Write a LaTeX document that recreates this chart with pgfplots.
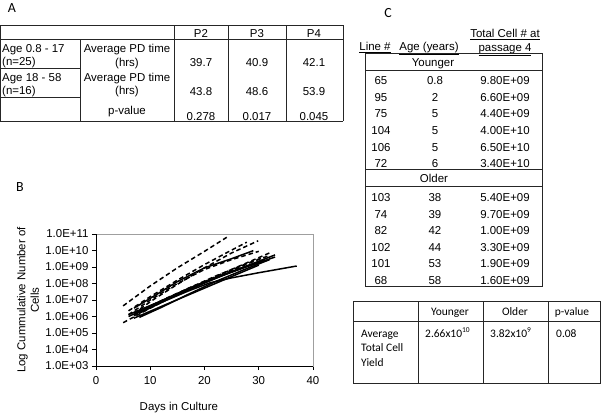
\documentclass[border=0pt]{standalone}
\usepackage{fontspec}
\setmainfont{Liberation Sans}
\newfontfamily\calibri{Carlito}
\usepackage{pgfplots}
\pgfplotsset{compat=1.18}
\newcommand{\tf}{\fontsize{11.5}{13}\selectfont}
\newcommand{\cf}{\calibri\fontsize{11.5}{13}\selectfont}
\begin{document}
\begin{tikzpicture}
\useasboundingbox (0bp,0bp) rectangle (601bp,-414bp);
\begin{scope}[x=1bp,y=-1bp, every node/.style={inner sep=0pt, font=\tf}, tl/.style={line width=0.8bp, black!85}]
% ---------- Panel A ----------
\node[font=\calibri\fontsize{14}{15}\selectfont] at (12,8) {A};
\draw[tl] (0.5,25) -- (343,25);
\draw[tl] (0.5,39.5) -- (343,39.5);
\draw[tl] (0.5,121) -- (343,121);
\draw[tl] (0.5,25) -- (0.5,121);
\draw[tl] (80,39.5) -- (80,121);
\draw[tl] (174,25) -- (174,121);
\draw[tl] (228,25) -- (228,121);
\draw[tl] (286,25) -- (286,121);
\draw[tl] (343,25) -- (343,121);
\draw[tl] (0.5,68.5) -- (80,68.5);
\draw[tl] (0.5,97) -- (80,97);
\node[anchor=mid] at (201,35) {P2};
\node[anchor=mid] at (257,35) {P3};
\node[anchor=mid] at (314,35) {P4};
\node[anchor=mid west] at (2,50) {Age 0.8 - 17};
\node[anchor=mid west] at (2,63) {(n=25)};
\node[anchor=mid west] at (2,79) {Age 18 - 58};
\node[anchor=mid west] at (2,92) {(n=16)};
\node[anchor=mid] at (127,50) {Average PD time};
\node[anchor=mid] at (127,64) {(hrs)};
\node[anchor=mid] at (127,79) {Average PD time};
\node[anchor=mid] at (127,92) {(hrs)};
\node[anchor=mid] at (127,112) {p-value};
\node[anchor=mid] at (201,64) {39.7};
\node[anchor=mid] at (257,64) {40.9};
\node[anchor=mid] at (314,64) {42.1};
\node[anchor=mid] at (201,93) {43.8};
\node[anchor=mid] at (257,93) {48.6};
\node[anchor=mid] at (314,93) {53.9};
\node[anchor=mid] at (201,118) {0.278};
\node[anchor=mid] at (257,118) {0.017};
\node[anchor=mid] at (314,118) {0.045};
% ---------- Panel B label ----------
\node[font=\calibri\fontsize{14}{15}\selectfont] at (20,187) {B};
% ---------- Panel C ----------
\node[font=\calibri\fontsize{14}{15}\selectfont] at (388,13) {C};
\node[anchor=mid] at (375,48) {\underline{Line \#}};
\node[anchor=mid] at (429,48) {\underline{Age (years)}};
\node[anchor=mid] at (505,35) {\underline{Total Cell \# at}};
\node[anchor=mid] at (505,49) {\underline{passage 4}};
\draw[tl] (365,53.5) rectangle (542,286);
\draw[tl] (365,70) -- (542,70);
\draw[tl] (365,169) -- (542,169);
\draw[tl] (365,186) -- (542,186);
\node[anchor=mid] at (433,64) {Younger};
\node[anchor=mid] at (434,180) {Older};
\foreach \y/\a/\b/\c in {82/65/0.8/9.80E+09, 99/95/2/6.60E+09, 115/75/5/4.40E+09, 132/104/5/4.00E+10, 149/106/5/6.50E+10, 165/72/6/3.40E+10,
  199/103/38/5.40E+09, 216/74/39/9.70E+09, 232/82/42/1.00E+09, 249/102/44/3.30E+09, 265/101/53/1.90E+09, 282/68/58/1.60E+09}{
  \node[anchor=mid] at (381,\y) {\a};
  \node[anchor=mid] at (435,\y) {\b};
  \node[anchor=mid] at (505,\y) {\c};
}
% ---------- bottom table ----------
\draw[tl] (353,301) rectangle (600,383);
\draw[tl] (353,321.5) -- (600,321.5);
\draw[tl] (418,301) -- (418,383);
\draw[tl] (483,301) -- (483,383);
\draw[tl] (548,301) -- (548,383);
\node[anchor=mid, font=\cf] at (450,313) {Younger};
\node[anchor=mid, font=\cf] at (515,313) {Older};
\node[anchor=mid, font=\cf] at (572,313) {p-value};
\node[anchor=mid west, font=\cf] at (361,335) {Average};
\node[anchor=mid west, font=\cf] at (361,349) {Total Cell};
\node[anchor=mid west, font=\cf] at (361,364) {Yield};
\node[anchor=mid west, font=\cf] at (425,335) {2.66x10\raisebox{0.45em}{\fontsize{7.5}{8}\selectfont 10}};
\node[anchor=mid west, font=\cf] at (490,335) {3.82x10\raisebox{0.45em}{\fontsize{7.5}{8}\selectfont 9}};
\node[anchor=mid west, font=\cf] at (556,335) {0.08};
\end{scope}
% ---------- Panel B chart ----------
\begin{axis}[
  at={(96bp,-366bp)}, anchor=south west, scale only axis,
  width=217bp, height=132bp,
  xmin=0, xmax=40, ymode=log, ymin=1e3, ymax=1e11,
  xtick={0,10,20,30,40}, xticklabels={0,10,20,30,40},
  ytick={1e3,1e4,1e5,1e6,1e7,1e8,1e9,1e10,1e11},
  yticklabels={1.0E+03,1.0E+04,1.0E+05,1.0E+06,1.0E+07,1.0E+08,1.0E+09,1.0E+10,1.0E+11},
  yminorticks=false, xminorticks=false,
  axis line style={gray!75, line width=0.7bp},
  xtick pos=left, ytick pos=left, tick align=outside,
  major tick length=4bp, tick style={black, line width=0.7bp},
  tick label style={font=\tf},
  xticklabel style={yshift=-3bp},
  xlabel={Days in Culture},
  xlabel style={font=\tf, at={(axis description cs:0.382,-0.318)}, anchor=center},
  ylabel={Log Cummulative Number of\\Cells},
  ylabel style={font=\fontsize{11.5}{13.5}\selectfont, align=center, at={(axis description cs:-0.313,0.5)}, anchor=center},
  every axis plot/.append style={black, line width=1.5bp, no markers},
  sol/.style={solid}, das/.style={dash pattern=on 4.5bp off 3bp},
  clip=false,
]
\draw[black, line width=0.8bp] (rel axis cs:0,0) -- (rel axis cs:0,1);
\draw[black, line width=0.8bp] (rel axis cs:0,0) -- (rel axis cs:1,0);
\addplot[das] coordinates {(5,4.4e6) (10,7.1e7) (15,8.9e8) (20,8.9e9) (24.1,6.3e10)};
\addplot[das] coordinates {(6,2.2e6) (10,1.6e7) (15,1.6e8) (20,1.4e9) (24,7.1e9) (27.8,3.2e10)};
\addplot[das] coordinates {(7,1.6e6) (11,1.3e7) (15,8.9e7) (20,8.9e8) (25,7.1e9) (29.9,3.9e10)};
\addplot[sol] coordinates {(7,3.2e6) (11,2.0e7) (15,1.3e8) (20,8.9e8) (25,3.2e9) (29,9.8e9)};
\addplot[das] coordinates {(6,1.3e6) (10,1e7) (15,1e8) (20,7.1e8) (25,2.8e9) (30,8.9e9)};
\addplot[das] coordinates {(5,4.2e5) (10,3.2e6) (15,2.2e7) (20,1.3e8) (25,7.1e8) (32.1,7.4e9)};
\addplot[sol] coordinates {(6,1e6) (10,4e6) (15,2.2e7) (20,1.1e8) (25,5e8) (33,5.4e9)};
\addplot[sol] coordinates {(7,1.6e6) (12,8.9e6) (17,5e7) (22,2.2e8) (27,8.9e8) (30.8,2.1e9)};
\addplot[sol] coordinates {(7,1.3e6) (12,7.1e6) (17,3.5e7) (21,1.1e8) (25,2.2e8) (30,4.5e8) (37,1.15e9)};
\addplot[sol] coordinates {(8,8.9e5) (12,3.5e6) (17,2.2e7) (22,1.3e8) (27,6.3e8) (32,2.8e9)};
\addplot[das] coordinates {(7,1.1e6) (12,7.9e6) (17,5e7) (22,2.8e8) (27,1.3e9) (31,4e9)};
\addplot[sol] coordinates {(6,1.3e6) (11,6.3e6) (16,3.2e7) (21,1.6e8) (26,7.1e8) (31,2.8e9)};
\addplot[sol] coordinates {(8,1.6e6) (13,1e7) (18,5.6e7) (23,2.8e8) (28,1.1e9) (33,4e9)};
\addplot[das] coordinates {(8,2e6) (13,1.3e7) (18,7.1e7) (23,3.2e8) (28,1.6e9) (32,5e9)};
\addplot[sol] coordinates {(7,7.9e5) (12,4e6) (17,2e7) (22,1e8) (27,5e8) (30,1.3e9)};
\end{axis}
\end{tikzpicture}
\end{document}
